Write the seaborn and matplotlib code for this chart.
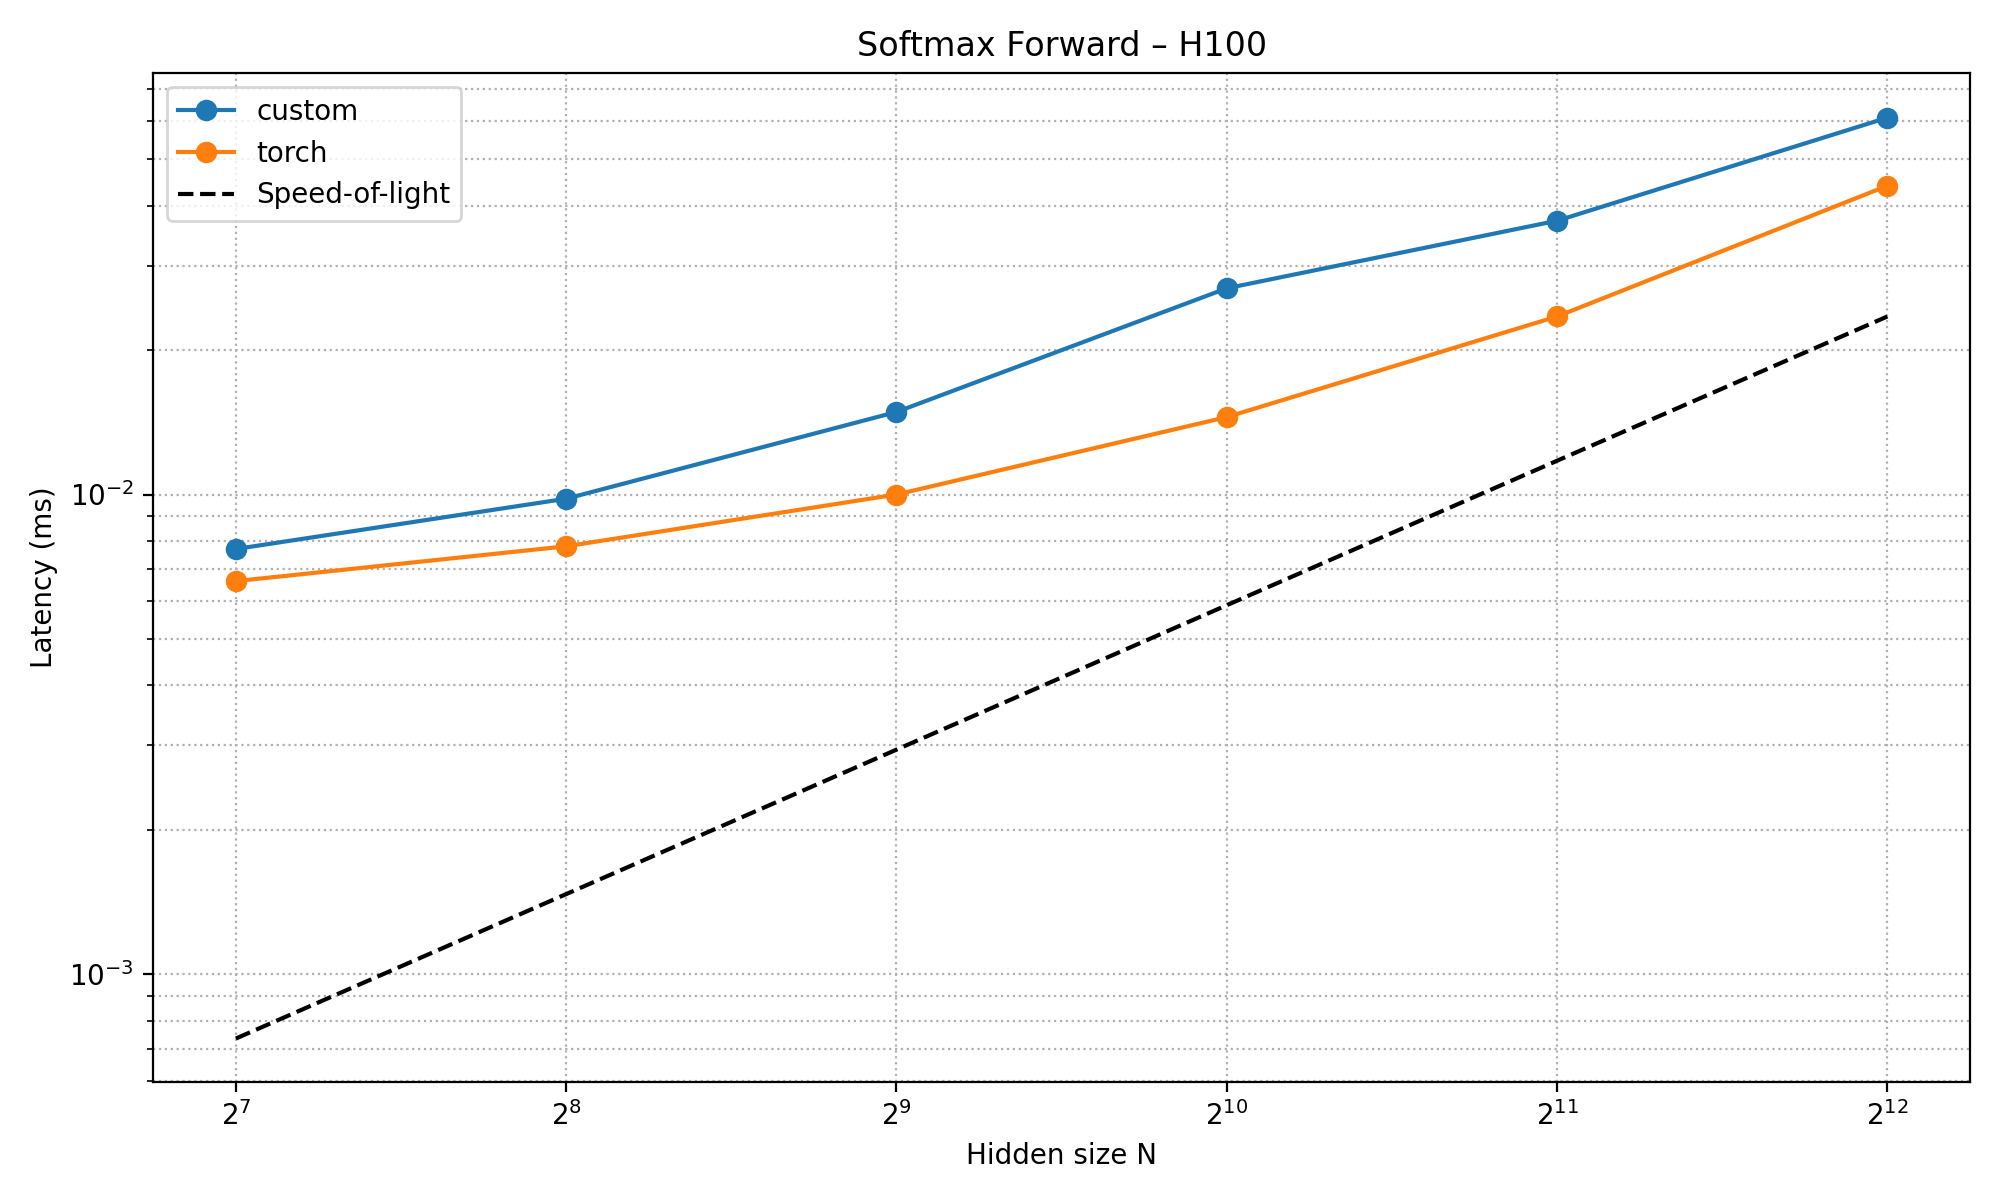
import matplotlib
matplotlib.use("Agg")
import matplotlib.pyplot as plt
import seaborn as sns
import pandas as pd

hidden_sizes = [128, 256, 512, 1024, 2048, 4096]
custom_ms = [0.0077, 0.0098, 0.01486, 0.0269, 0.0372, 0.061]
torch_ms = [0.0066, 0.0078, 0.0100, 0.0145, 0.0235, 0.044]
sol_ms = [0.000735, 0.00147, 0.00294, 0.00588, 0.01176, 0.0235]

df = pd.DataFrame({
    "N": hidden_sizes * 2,
    "latency": custom_ms + torch_ms,
    "impl": ["custom"] * 6 + ["torch"] * 6,
})

fig, ax = plt.subplots(figsize=(10, 6), dpi=200)
sns.lineplot(data=df, x="N", y="latency", hue="impl", marker="o",
             markersize=7, markeredgecolor=None, palette=["#1f77b4", "#ff7f0e"],
             ax=ax)
ax.plot(hidden_sizes, sol_ms, "k--", label="Speed-of-light")
ax.set_xscale("log", base=2)
ax.set_yscale("log")
ax.set_ylim(0.000598, 0.0757)
ax.set_title("Softmax Forward – H100")
ax.set_xlabel("Hidden size N")
ax.set_ylabel("Latency (ms)")
ax.grid(True, which="both", linestyle=":", color="#b0b0b0")
handles, labels = ax.get_legend_handles_labels()
ax.legend(handles, labels, loc="upper left")
plt.tight_layout()
plt.savefig("out.png")
